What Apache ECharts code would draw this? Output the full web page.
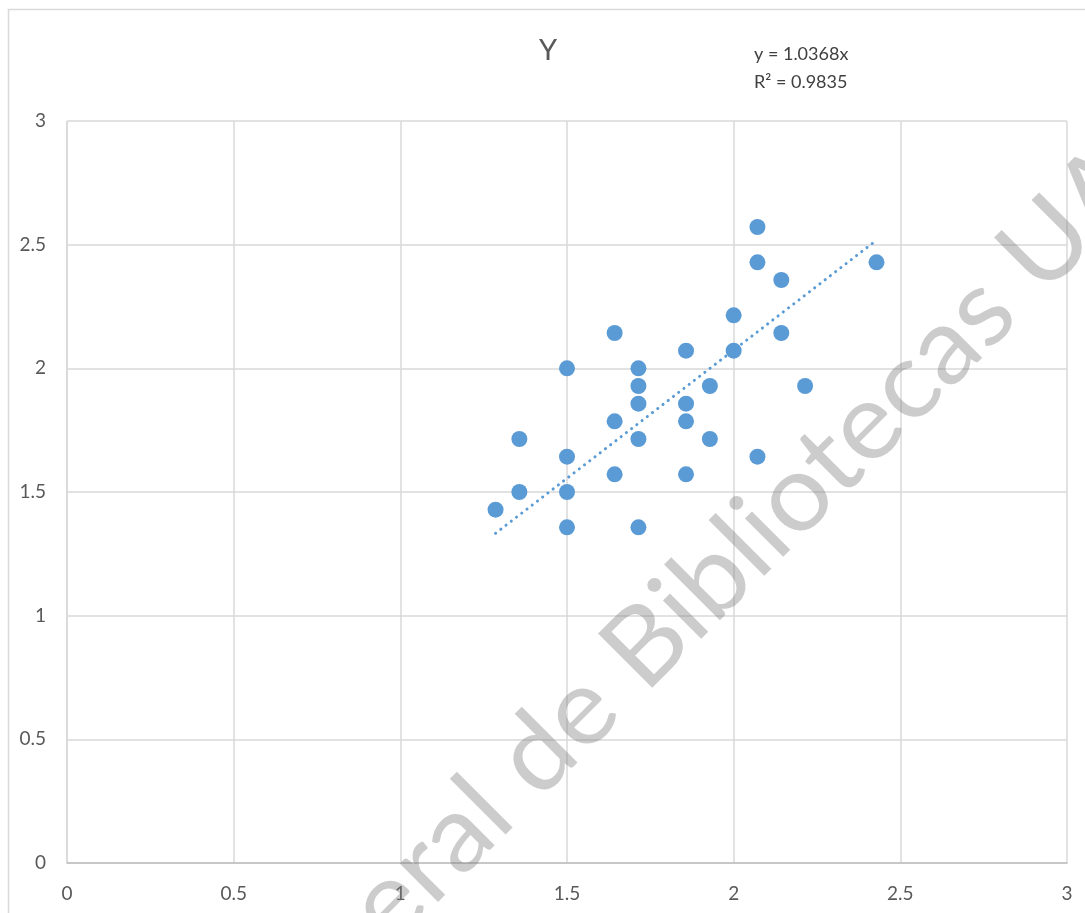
<!DOCTYPE html>
<html><head><meta charset="utf-8">
<script src="https://cdn.jsdelivr.net/npm/echarts@6/dist/echarts.min.js"></script>
<style>html,body{margin:0;padding:0;background:#fff}#c{width:1085px;height:913px}</style>
</head><body><div id="c"></div>
<script>
const titleText = 'Y';
const equationLines = ['y = 1.0368x', 'R² = 0.9835'];
const xTicks = [0, 0.5, 1, 1.5, 2, 2.5, 3];
const yTicks = [0, 0.5, 1, 1.5, 2, 2.5, 3];
const xValues = [1.2857,1.3571,1.3571,1.5,1.5,1.5,1.5,1.6429,1.6429,1.6429,1.7143,1.7143,1.7143,1.7143,1.7143,1.8571,1.8571,1.8571,1.8571,1.9286,1.9286,2.0,2.0,2.0714,2.0714,2.0714,2.1429,2.1429,2.2143,2.4286];
const yValues = [1.4286,1.7143,1.5,2.0,1.6429,1.5,1.3571,2.1429,1.7857,1.5714,2.0,1.9286,1.8571,1.7143,1.3571,2.0714,1.8571,1.7857,1.5714,1.9286,1.7143,2.2143,2.0714,2.5714,2.4286,1.6429,2.3571,2.1429,1.9286,2.4286];
const trendX = [1.2857, 2.4286];
const trendY = [1.3331, 2.5180];
const wmPre = 'eral de ';
const wmMid = 'Bibliotecas ';
const wmPost = 'UA';

const FONT = 'Lato, "Open Sans", sans-serif';

// watermark placement: fit to reference (B baseline corner, cap height, B-to-U span)
const mc = document.createElement('canvas').getContext('2d');
mc.font = '100px Lato'; mc.textBaseline = 'alphabetic';
const cap100 = mc.measureText('B').actualBoundingBoxAscent || 71.6;
const WF = Math.round(100 * 78 / cap100);
mc.font = WF + 'px Lato';
mc.textBaseline = 'alphabetic';
const capA = mc.measureText('B').actualBoundingBoxAscent;
mc.textBaseline = 'middle';
const capM = mc.measureText('B').actualBoundingBoxAscent;
const baseOff = capA - capM;
mc.textBaseline = 'alphabetic';
const wPre = mc.measureText(wmPre).width;
const wMid = mc.measureText(wmMid).width;
const wS = 561 / wMid;
const cc = Math.SQRT1_2;
const lx = wS * wPre, ly = baseOff;
const wmX = 645 - (lx + ly) * cc;
const wmY = 695 - (-lx + ly) * cc;

const chart = echarts.init(document.getElementById('c'), null, {renderer: 'canvas'});
chart.setOption({
  animation: false,
  backgroundColor: '#fff',
  grid: {left: 67, right: 18, top: 121, bottom: 50, containLabel: false},
  xAxis: {
    type: 'value', min: xTicks[0], max: xTicks[xTicks.length-1], interval: 0.5,
    axisLine: {show: true, lineStyle: {color: '#bfbfbf', width: 1.5}},
    axisTick: {show: false},
    splitLine: {show: true, lineStyle: {color: '#d9d9d9', width: 1.5}},
    axisLabel: {color: '#595959', fontSize: 19, fontFamily: FONT, margin: 21}
  },
  yAxis: {
    type: 'value', min: yTicks[0], max: yTicks[yTicks.length-1], interval: 0.5,
    axisLine: {show: false},
    axisTick: {show: false},
    splitLine: {show: true, lineStyle: {color: '#d9d9d9', width: 1.5}},
    axisLabel: {color: '#595959', fontSize: 19, fontFamily: FONT, margin: 21}
  },
  graphic: [
    {type: 'rect', silent: true, shape: {x: 8.5, y: 9.5, width: 1200, height: 1000}, style: {fill: 'none', stroke: '#d9d9d9', lineWidth: 1.5}, z: -1},
    {type: 'line', silent: true, shape: {x1: 67, y1: 121, x2: 67, y2: 863}, style: {stroke: '#d9d9d9', lineWidth: 1.5}},
    {type: 'text', left: 539, top: 36, style: {text: titleText, fill: '#595959', fontSize: 29, fontFamily: FONT}},
    {type: 'text', left: 754, top: 40, style: {text: equationLines.join('\n'), fill: '#404040', fontSize: 18, lineHeight: 28, fontFamily: FONT}},
    {type: 'text', silent: true, x: wmX, y: wmY, rotation: Math.PI/4, scaleX: wS, z: 100,
      style: {text: wmPre + wmMid + wmPost, fill: 'rgba(120,120,120,0.38)', fontSize: WF, fontFamily: 'Lato', align: 'left', verticalAlign: 'middle'}}
  ],
  series: [
    {type: 'scatter', data: xValues.map((x, i) => [x, yValues[i]]), symbolSize: 16, itemStyle: {color: '#5b9bd5', opacity: 1}, z: 3},
    {type: 'line', data: trendX.map((x, i) => [x, trendY[i]]), symbol: 'none',
      lineStyle: {color: '#5b9bd5', width: 3, type: [0.1, 6.5], cap: 'round'}, z: 2}
  ]
});
</script></body></html>
